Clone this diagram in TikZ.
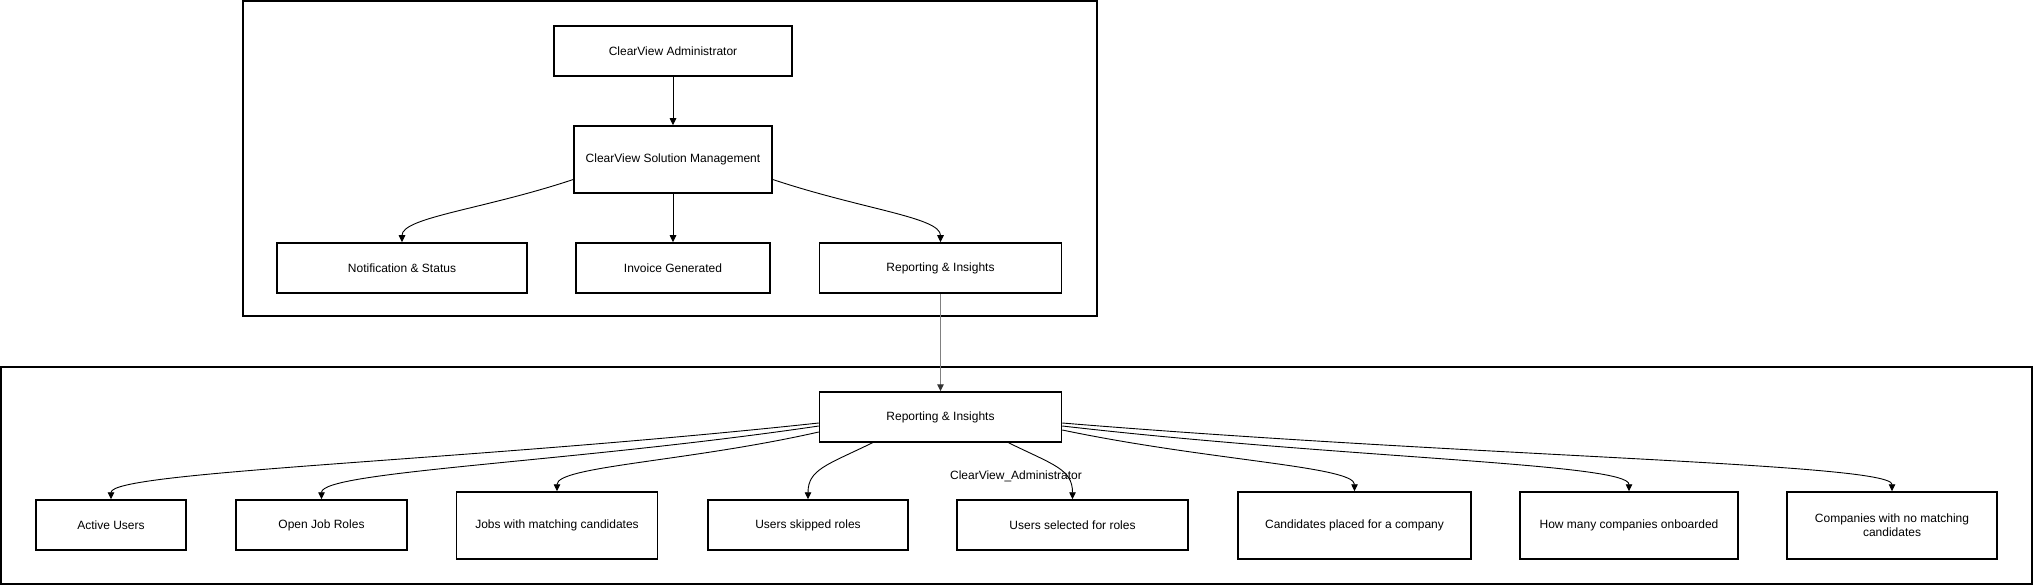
\documentclass[tikz,border=0pt]{standalone}
\usepackage{fontspec}
\setmainfont{Liberation Sans}
\usetikzlibrary{arrows.meta,calc}
\begin{document}
\begin{tikzpicture}[x=1pt,y=-1pt,
  box/.style={draw=black, line width=1.5pt, inner sep=0pt, align=center, font=\fontsize{12}{14}\selectfont},
  cont/.style={draw=black, line width=2pt},
  conn/.style={draw=black, line width=0.9pt, -{Triangle[length=7pt,width=6.5pt]}},
  grayconn/.style={draw=black!50, line width=1.3pt, -{Triangle[length=7pt,width=6.5pt,color=black!80]}},
  lbl/.style={inner sep=0pt, font=\fontsize{12}{14}\selectfont}
]
\useasboundingbox (0,0) rectangle (2033,585);
% containers
\draw[cont] (243,1) rectangle (1097,316);
\draw[cont] (1,367) rectangle (2032,584);

% top nodes
\node[box, minimum width=238pt, minimum height=50pt] (admin) at (673,51) {ClearView Administrator};
\node[box, minimum width=198pt, minimum height=67pt] (sol) at (673,159.5) {ClearView Solution Management};
\node[box, minimum width=250pt, minimum height=50pt] (notif) at (402,268) {Notification \& Status};
\node[box, minimum width=194pt, minimum height=50pt] (inv) at (673,268) {Invoice Generated};
\node[box, minimum width=242pt, minimum height=50pt] (rep1) at (940.5,268) {Reporting \& Insights};

% bottom nodes
\node[box, minimum width=242pt, minimum height=50pt] (rep2) at (940.5,417) {Reporting \& Insights};
\node[box, minimum width=150pt, minimum height=50pt] (active) at (111,525) {Active Users};
\node[box, minimum width=171pt, minimum height=50pt] (open) at (321.5,525) {Open Job Roles};
\node[box, minimum width=201pt, minimum height=67pt] (jobs) at (557,525.5) {Jobs with matching candidates};
\node[box, minimum width=200pt, minimum height=50pt] (skipped) at (808,525) {Users skipped roles};
\node[box, minimum width=231pt, minimum height=50pt] (selected) at (1072.5,525) {Users selected for roles};
\node[box, minimum width=233pt, minimum height=67pt] (cand) at (1354.5,525.5) {Candidates placed for a company};
\node[box, minimum width=218pt, minimum height=67pt] (howmany) at (1629,525.5) {How many companies onboarded};
\node[box, minimum width=210pt, minimum height=67pt] (comp) at (1892,525.5) {Companies with no matching\\candidates};

\node[lbl] (lab) at (1016,476) {ClearView\_Administrator};

% top connectors
\draw[conn] (admin) -- (sol);
\draw[conn] (sol) -- (inv);
\draw[conn] ($(sol.west)+(0,20)$) .. controls +(-90,30) and +(0,-25) .. (notif.north);
\draw[conn] ($(sol.east)+(0,20)$) .. controls +(90,30) and +(0,-25) .. (rep1.north);
\draw[grayconn] (rep1) -- (rep2);

% bottom connector start points
\coordinate (sA) at ($(rep2.west)+(0,6)$);
\coordinate (sO) at ($(rep2.west)+(0,9)$);
\coordinate (sJ) at ($(rep2.west)+(0,15)$);
\coordinate (sS) at ($(rep2.south)+(-68,0)$);
\coordinate (sU) at ($(rep2.south)+(68,0)$);
\coordinate (sC) at ($(rep2.east)+(0,13)$);
\coordinate (sH) at ($(rep2.east)+(0,9)$);
\coordinate (sN) at ($(rep2.east)+(0,6)$);

\draw[conn] (sA) .. controls ($(sA)!0.5!(active.north)$) and ($(active.north)+(0,-28)$) .. (active.north);
\draw[conn] (sO) .. controls ($(sO)!0.5!(open.north)$) and ($(open.north)+(0,-28)$) .. (open.north);
\draw[conn] (sJ) .. controls ($(sJ)!0.5!(jobs.north)$) and ($(jobs.north)+(0,-25)$) .. (jobs.north);
\draw[conn] (sS) .. controls +(-45,22) and +(0,-30) .. (skipped.north);
\draw[conn] (sU) .. controls +(45,22) and +(0,-30) .. (selected.north);
\draw[conn] (sC) .. controls ($(sC)!0.5!(cand.north)$) and ($(cand.north)+(0,-25)$) .. (cand.north);
\draw[conn] (sH) .. controls ($(sH)!0.5!(howmany.north)$) and ($(howmany.north)+(0,-28)$) .. (howmany.north);
\draw[conn] (sN) .. controls ($(sN)!0.5!(comp.north)$) and ($(comp.north)+(0,-28)$) .. (comp.north);
\end{tikzpicture}
\end{document}
